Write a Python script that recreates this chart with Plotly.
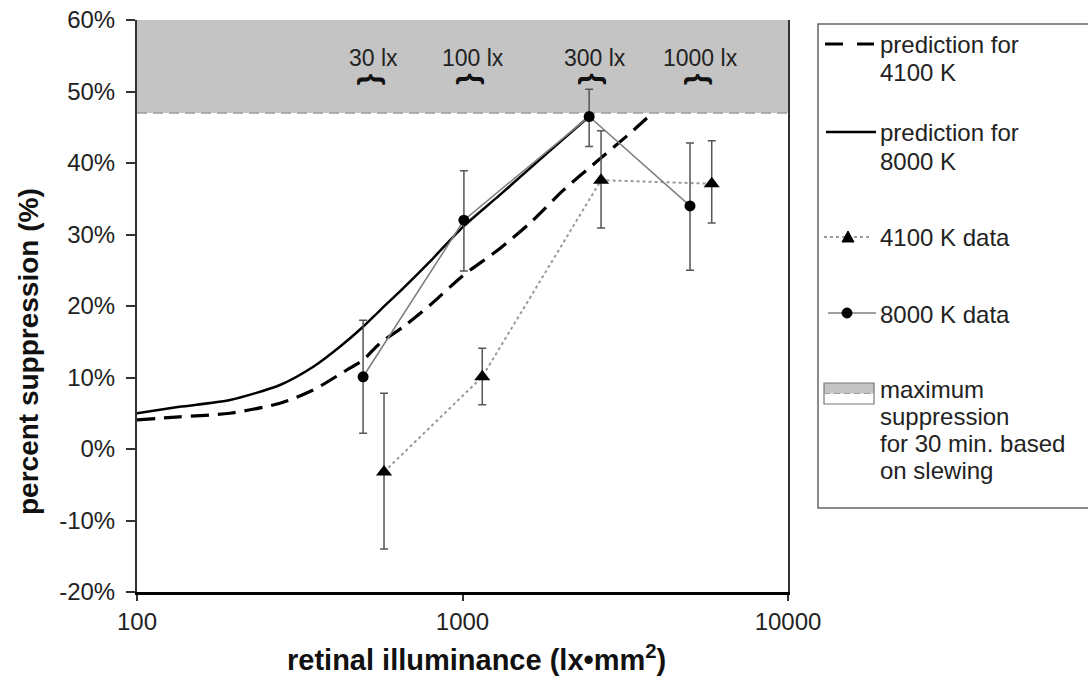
import math
import plotly.graph_objects as go

# ---------------- data ----------------
x_pred_8000 = [100, 135, 193, 275, 348, 420, 495, 558, 658, 794, 1000, 1300, 1770, 2450]
pred_8000 = [5.0, 5.9, 6.85, 8.95, 11.5, 14.3, 17.1, 19.4, 22.5, 26.2, 31.0, 35.5, 40.9, 46.5]

x_pred_4100 = [100, 135, 193, 275, 348, 441, 495, 558, 658, 794, 1006, 1300, 1612, 2042, 2583, 3270, 3800]
pred_4100 = [4.06, 4.5, 5.0, 6.4, 8.25, 11.05, 12.45, 14.8, 17.1, 20.1, 24.3, 28.0, 31.6, 36.2, 40.2, 44.15, 46.85]

x_data_4100 = [574, 1150, 2665, 5830]
y_data_4100 = [-3.2, 10.1, 37.6, 37.1]
err_plus_4100 = [11.0, 4.0, 6.9, 6.0]
err_minus_4100 = [10.8, 3.9, 6.7, 5.5]

x_data_8000 = [495, 1010, 2450, 5000]
y_data_8000 = [10.1, 32.0, 46.5, 34.0]
err_plus_8000 = [7.9, 6.9, 3.8, 8.8]
err_minus_8000 = [7.9, 7.1, 4.2, 9.0]

max_suppression = 47.0
lux_labels = ["30 lx", "100 lx", "300 lx", "1000 lx"]

x_tickvals = [100, 1000, 10000]
x_ticktext = ["100", "1000", "10000"]
y_tickvals = [-20, -10, 0, 10, 20, 30, 40, 50, 60]
y_ticktext = ["-20%", "-10%", "0%", "10%", "20%", "30%", "40%", "50%", "60%"]

W, H = 1088, 680
FONT = "Liberation Sans, Arial, Helvetica, sans-serif"
TXT = "#222222"


def fx(p):
    return p / W


def fy(p):
    return 1 - p / H


fig = go.Figure()

# prediction curves
fig.add_trace(go.Scatter(x=x_pred_4100, y=pred_4100, mode="lines",
                         line=dict(color="black", width=3.2, dash="18px,9px", shape="spline", smoothing=0.7),
                         showlegend=False, hoverinfo="skip"))
fig.add_trace(go.Scatter(x=x_pred_8000, y=pred_8000, mode="lines",
                         line=dict(color="black", width=2.5, shape="spline", smoothing=0.7),
                         showlegend=False, hoverinfo="skip"))

# data series
fig.add_trace(go.Scatter(x=x_data_4100, y=y_data_4100, mode="lines+markers",
                         line=dict(color="#9a9a9a", width=2, dash="dot"),
                         marker=dict(symbol="triangle-up", size=14, color="black"),
                         error_y=dict(type="data", array=err_plus_4100, arrayminus=err_minus_4100,
                                      color="#555555", thickness=1.5, width=4),
                         showlegend=False))
fig.add_trace(go.Scatter(x=x_data_8000, y=y_data_8000, mode="lines+markers",
                         line=dict(color="#808080", width=1.6),
                         marker=dict(symbol="circle", size=11, color="black"),
                         error_y=dict(type="data", array=err_plus_8000, arrayminus=err_minus_8000,
                                      color="#555555", thickness=1.5, width=4),
                         showlegend=False))

shapes = []
annotations = []

# shaded maximum-suppression region
shapes.append(dict(type="rect", xref="x domain", yref="y", x0=0, x1=1, y0=max_suppression, y1=60,
                   fillcolor="#c4c4c4", line=dict(width=0), layer="below"))
shapes.append(dict(type="line", xref="x domain", yref="y", x0=0, x1=1, y0=max_suppression, y1=max_suppression,
                   line=dict(color="#9c9c9c", width=1.5, dash="10px,6px"), layer="below"))

# lux labels with braces, placed between each pair of data points
for lab, xa, xb in zip(lux_labels, x_data_8000, x_data_4100):
    xm = (math.log10(xa) + math.log10(xb)) / 2
    annotations.append(dict(x=xm, y=54.7, xref="x", yref="y", text=lab, showarrow=False,
                            xanchor="center", yanchor="middle",
                            font=dict(family=FONT, size=23, color=TXT)))
    annotations.append(dict(x=xm, y=51.7, xref="x", yref="y", text="<b>{</b>", textangle=90, showarrow=False,
                            xanchor="center", yanchor="middle",
                            font=dict(family=FONT, size=30, color="#111111")))

# axis titles
annotations.append(dict(x=fx(476), y=fy(658), xref="paper", yref="paper", showarrow=False,
                        xanchor="center", yanchor="middle",
                        text="<b>retinal illuminance (lx•mm<sup>2</sup>)</b>",
                        font=dict(family=FONT, size=29, color="#111111")))
annotations.append(dict(x=fx(28), y=fy(352), xref="paper", yref="paper", showarrow=False, textangle=-90,
                        xanchor="center", yanchor="middle",
                        text="<b>percent suppression (%)</b>",
                        font=dict(family=FONT, size=28, color="#111111")))


def pline(x0, x1, y0, y1, **line):
    shapes.append(dict(type="line", xref="paper", yref="paper",
                       x0=fx(x0), x1=fx(x1), y0=fy(y0), y1=fy(y1), line=line))


# custom legend box
shapes.append(dict(type="rect", xref="paper", yref="paper", x0=fx(818), x1=fx(1100), y0=fy(24), y1=fy(508),
                   line=dict(color="#666666", width=1.5), fillcolor="rgba(0,0,0,0)"))
# entry 1: dashed
pline(825, 843, 44, 44, color="black", width=3)
pline(857, 874, 44, 44, color="black", width=3)
# entry 2: solid
pline(826, 876, 132, 132, color="black", width=2.5)
# entry 3: dotted + triangle
pline(824, 870, 237, 237, color="#9a9a9a", width=2, dash="dot")
shapes.append(dict(type="path", xref="paper", yref="paper",
                   path=f"M {fx(842)} {fy(242)} L {fx(854)} {fy(242)} L {fx(848)} {fy(231)} Z",
                   fillcolor="black", line=dict(color="black", width=1)))
# entry 4: solid gray + circle
pline(828, 876, 313, 313, color="#808080", width=1.6)
shapes.append(dict(type="circle", xref="paper", yref="paper", x0=fx(842), x1=fx(852), y0=fy(308), y1=fy(318),
                   fillcolor="black", line=dict(color="black", width=1)))
# entry 5: shaded box
shapes.append(dict(type="rect", xref="paper", yref="paper", x0=fx(824), x1=fx(874), y0=fy(383), y1=fy(393.5),
                   fillcolor="#c4c4c4", line=dict(width=0)))
shapes.append(dict(type="rect", xref="paper", yref="paper", x0=fx(824), x1=fx(874), y0=fy(383), y1=fy(404),
                   fillcolor="rgba(0,0,0,0)", line=dict(color="#777777", width=1.2)))
pline(824, 874, 393.5, 393.5, color="#9c9c9c", width=1, dash="6px,4px")

legend_lines = [
    ("prediction for", 45), ("4100 K", 73),
    ("prediction for", 133), ("8000 K", 161),
    ("4100 K data", 238),
    ("8000 K data", 314),
    ("maximum", 389), ("suppression", 416), ("for 30 min. based", 443), ("on slewing", 470),
]
for t, yy in legend_lines:
    annotations.append(dict(x=fx(878), y=fy(yy), xref="paper", yref="paper", text=t, showarrow=False,
                            xanchor="left", yanchor="middle",
                            font=dict(family=FONT, size=24, color=TXT)))

fig.update_layout(
    template="none",
    width=W, height=H, autosize=False,
    margin=dict(l=0, r=0, t=0, b=0, pad=0),
    paper_bgcolor="white", plot_bgcolor="white",
    font=dict(family=FONT, size=24, color=TXT),
    showlegend=False,
    xaxis=dict(type="log", range=[2, 4], domain=[137 / W, 788 / W], anchor="y",
               automargin=False,
               showline=True, linecolor="black", linewidth=3,
               ticks="outside", ticklen=6, tickwidth=1.5, tickcolor="#333333",
               tickvals=x_tickvals, ticktext=x_ticktext,
               tickfont=dict(family=FONT, size=24, color=TXT),
               showgrid=False, zeroline=False),
    yaxis=dict(range=[-20, 60], domain=[88 / H, 660 / H], anchor="x",
               automargin=False,
               showline=True, linecolor="#333333", linewidth=2, mirror=True,
               ticks="outside", ticklen=9, tickwidth=1.5, tickcolor="#333333",
               tickvals=y_tickvals, ticktext=y_ticktext,
               tickfont=dict(family=FONT, size=24, color=TXT),
               ticklabelstandoff=6,
               showgrid=False, zeroline=False),
    shapes=shapes,
    annotations=annotations,
)

fig.write_html("out.html")
